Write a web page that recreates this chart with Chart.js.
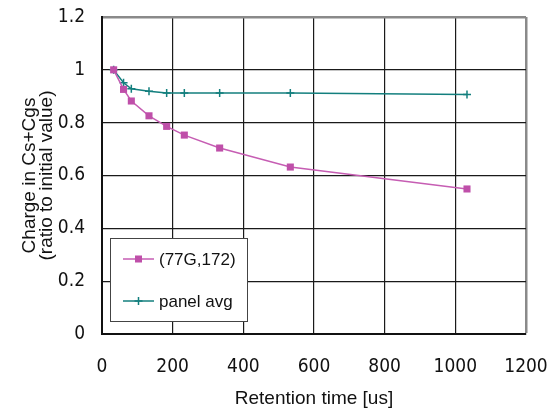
<!DOCTYPE html>
<html><head><meta charset="utf-8">
<script src="https://cdn.jsdelivr.net/npm/chart.js@4/dist/chart.umd.min.js"></script>
<style>html,body{margin:0;padding:0;background:#fff}#wrap{width:551px;height:414px}</style>
</head><body><div id="wrap"><canvas id="c" width="551" height="414"></canvas></div>
<script>
// ---- data ----
const retentionTimes = [33, 61, 83, 133, 183, 233, 333, 533, 1033];
const pixelCharge    = [1.000, 0.926, 0.882, 0.826, 0.786, 0.753, 0.704, 0.632, 0.549];
const panelAvgCharge = [1.000, 0.951, 0.928, 0.919, 0.912, 0.912, 0.912, 0.912, 0.907];
const seriesNames = ['(77G,172)', 'panel avg'];
const xTitle = 'Retention time [us]';
const yTitle = ['Charge in Cs+Cgs', '(ratio to initial value)'];

const PINK = '#bf4fa9', PINK_LINE = '#c65db3', TEAL = '#137f7e';
const tickFont = {family: "'Liberation Sans Narrow','DejaVu Sans Condensed',sans-serif", size: 19};
const titleFont = {family: "'Liberation Sans',Arial,sans-serif", size: 19};

const toXY = ys => retentionTimes.map((t, i) => ({x: t, y: ys[i]}));

const legendPlugin = {
  id: 'boxLegend',
  afterDatasetsDraw(chart) {
    const ctx = chart.ctx;
    ctx.save();
    const x0 = 110.5, y0 = 238.5, w = 137, h = 83;
    ctx.fillStyle = '#fff';
    ctx.fillRect(x0, y0, w, h);
    ctx.strokeStyle = '#444';
    ctx.lineWidth = 1;
    ctx.strokeRect(x0, y0, w, h);
    const rows = [259, 301];
    chart.data.datasets.forEach((ds, i) => {
      const y = rows[i];
      ctx.strokeStyle = ds.borderColor;
      ctx.lineWidth = 1.5;
      ctx.beginPath(); ctx.moveTo(123, y); ctx.lineTo(154, y); ctx.stroke();
      if (ds.pointStyle === 'rect') {
        ctx.fillStyle = ds.pointBackgroundColor;
        ctx.fillRect(135, y - 3.5, 7, 7);
      } else {
        ctx.strokeStyle = ds.pointBorderColor;
        ctx.beginPath();
        ctx.moveTo(138.5, y - 4); ctx.lineTo(138.5, y + 4);
        ctx.moveTo(134.5, y); ctx.lineTo(142.5, y);
        ctx.stroke();
      }
      ctx.fillStyle = '#111';
      ctx.font = "17px 'Liberation Sans', Arial, sans-serif";
      ctx.textBaseline = 'middle';
      ctx.textAlign = 'left';
      ctx.fillText(ds.label, 159, y + 1);
    });
    ctx.restore();
  }
};

const gridColor = edge => c => (c.tick && Math.abs(c.tick.value - edge) < 1e-6) ? '#8a8a8a' : '#1a1a1a';
const gridWidth = edge => c => (c.tick && Math.abs(c.tick.value - edge) < 1e-6) ? 2.5 : 1.2;
const noPad = s => { s.paddingTop = 0; s.paddingBottom = 0; s.paddingLeft = 0; s.paddingRight = 0; };

new Chart(document.getElementById('c'), {
  type: 'line',
  data: {
    datasets: [
      {label: seriesNames[0], data: toXY(pixelCharge), borderColor: PINK_LINE, borderWidth: 1.5,
       pointStyle: 'rect', pointRadius: 5, pointBackgroundColor: PINK, pointBorderColor: PINK, pointBorderWidth: 0,
       tension: 0},
      {label: seriesNames[1], data: toXY(panelAvgCharge), borderColor: TEAL, borderWidth: 1.5,
       pointStyle: 'cross', pointRadius: 4, pointBackgroundColor: TEAL, pointBorderColor: TEAL, pointBorderWidth: 1.5,
       tension: 0}
    ]
  },
  options: {
    responsive: false, animation: false, devicePixelRatio: 1,
    layout: {padding: {left: 0, top: 17, right: 25, bottom: 0}},
    plugins: {legend: {display: false}, tooltip: {enabled: false}},
    scales: {
      x: {
        type: 'linear', min: 0, max: 1200,
        ticks: {stepSize: 200, font: tickFont, color: '#111', padding: 22, maxRotation: 0,
                callback: v => String(v)},
        grid: {drawTicks: false, color: gridColor(1200), lineWidth: gridWidth(1200)},
        border: {color: '#111', width: 2},
        title: {display: true, text: xTitle, font: titleFont, color: '#111', padding: {top: 0, bottom: 4}},
        afterFit: s => { s.height = 80; noPad(s); }
      },
      y: {
        min: 0, max: 1.2,
        ticks: {stepSize: 0.2, font: tickFont, color: '#111', padding: 17,
                callback: v => String(Number(v.toFixed(1)))},
        grid: {drawTicks: false, color: gridColor(1.2), lineWidth: gridWidth(1.2)},
        border: {color: '#111', width: 2},
        title: {display: true, text: yTitle, font: {...titleFont, lineHeight: 0.9}, color: '#111', padding: {top: 21, bottom: 0}},
        afterFit: s => { s.width = 102; noPad(s); }
      }
    }
  },
  plugins: [legendPlugin]
});
</script>
</body></html>
